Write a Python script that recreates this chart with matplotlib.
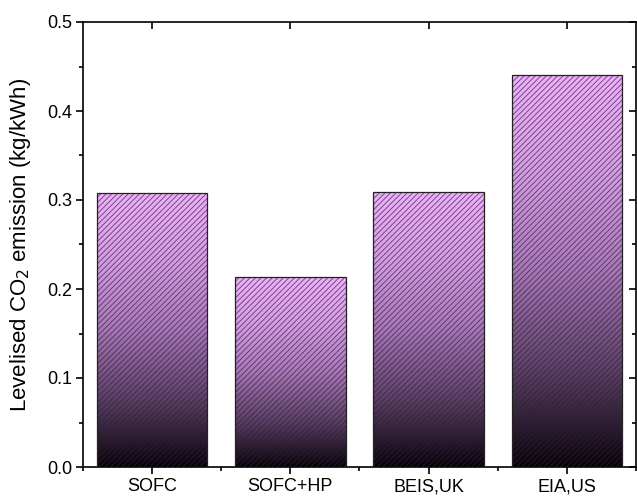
import numpy as np
import matplotlib
matplotlib.use("Agg")
import matplotlib.pyplot as plt
from matplotlib.colors import LinearSegmentedColormap
from matplotlib.ticker import MultipleLocator, FixedLocator, FormatStrFormatter

plt.rcParams['font.family'] = ['Liberation Sans', 'DejaVu Sans']
plt.rcParams['hatch.linewidth'] = 0.6

categories = ['SOFC', 'SOFC+HP', 'BEIS,UK', 'EIA,US']
emissions = [0.308, 0.213, 0.309, 0.440]

# gradient from black (bottom) to light violet (top), per bar
cmap = LinearSegmentedColormap.from_list('violet_black', [
    (0.0, '#050306'), (0.25, '#5c4266'), (0.5, '#a677b6'),
    (0.75, '#d49de3'), (1.0, '#eeb0fb')])

fig = plt.figure(figsize=(6.37, 5.0), dpi=100)
ax = fig.add_axes([0.1303, 0.066, 0.8681, 0.890])

x = np.arange(len(categories))
width = 0.8

bars = ax.bar(x, emissions, width=width, facecolor='none', edgecolor='none', zorder=1)
grad = np.linspace(0, 1, 256).reshape(-1, 1)
for bar in bars:
    x0, y0 = bar.get_x(), bar.get_y()
    w, h = bar.get_width(), bar.get_height()
    im = ax.imshow(grad, cmap=cmap, aspect='auto', origin='lower',
                   extent=[x0, x0 + w, y0, y0 + h], zorder=2, interpolation='bilinear')
    im.set_clip_path(bar)

# hatch overlay and outline
ax.bar(x, emissions, width=width, fill=False, hatch='//////',
       edgecolor=(0.22, 0.1, 0.25, 0.75), linewidth=0, zorder=3)
ax.bar(x, emissions, width=width, fill=False, edgecolor='#222222', linewidth=0.9, zorder=4)

ax.set_xlim(-0.5, 3.5)
ax.set_ylim(0, 0.5)

ax.set_xticks(x)
ax.set_xticklabels(categories)
ax.xaxis.set_minor_locator(FixedLocator([-0.5, 0.5, 1.5, 2.5, 3.5]))
ax.yaxis.set_major_locator(MultipleLocator(0.1))
ax.yaxis.set_minor_locator(MultipleLocator(0.05))
ax.yaxis.set_major_formatter(FormatStrFormatter('%.1f'))

ax.tick_params(axis='both', which='major', direction='out', length=5, width=1.2, labelsize=13, pad=3)
ax.tick_params(axis='both', which='minor', direction='out', length=3, width=1.2)

# inward ticks on top and right
ax_top = ax.secondary_xaxis('top')
ax_top.set_xticks(x)
ax_top.tick_params(direction='in', length=5, width=1.2, labeltop=False)
ax_top.spines['top'].set_visible(False)
ax_right = ax.secondary_yaxis('right')
ax_right.yaxis.set_major_locator(MultipleLocator(0.1))
ax_right.yaxis.set_minor_locator(MultipleLocator(0.05))
ax_right.tick_params(which='major', direction='in', length=5, width=1.2, labelright=False)
ax_right.tick_params(which='minor', direction='in', length=3, width=1.2)
ax_right.spines['right'].set_visible(False)

for s in ax.spines.values():
    s.set_linewidth(1.2)

ax.set_ylabel('Levelised CO$_2$ emission (kg/kWh)', fontsize=16, labelpad=10)

fig.savefig('out.png', dpi=100)
